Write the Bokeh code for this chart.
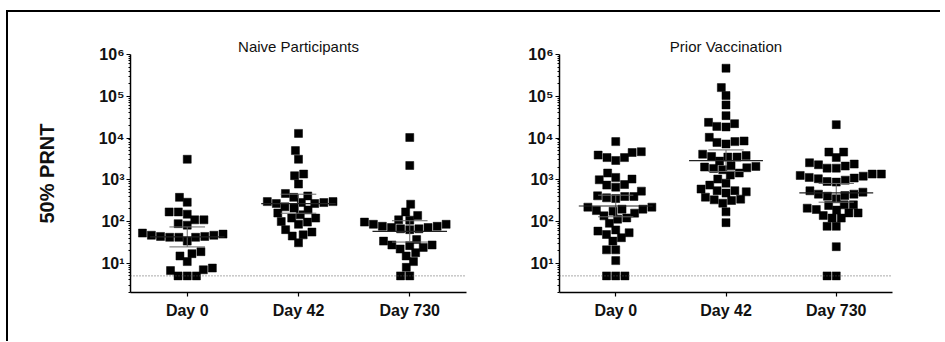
import math
import numpy as np
from bokeh.plotting import figure
from bokeh.models import FixedTicker, Span, Range1d
from bokeh.layouts import row
from bokeh.embed import file_html
from bokeh.resources import INLINE

# ---------------- data ----------------
days = ["Day 0", "Day 42", "Day 730"]
titles = ["Naive Participants", "Prior Vaccination"]
y_label = "50% PRNT"
ytick_vals = [10, 100, 1000, 10000, 100000, 1000000]
ytick_labels = ["10\u00b9", "10\u00b2", "10\u00b3", "10\u2074", "10\u2075", "10\u2076"]
detection_limit = 5

naive_day0 = [3100, 380, 290, 170, 150, 170, 110, 110, 82, 89, 53, 47, 44, 42, 42,
              34, 42, 44, 47, 50, 19, 15, 17, 11, 7, 7.7, 6.7, 5, 5, 5]
naive_day42 = [12900, 5000, 3100, 1250, 1370, 790, 470, 380, 410, 300, 285, 270, 210,
               190, 225, 270, 285, 300, 145, 160, 121, 121, 97, 100, 86, 64, 48, 56, 45, 31]
naive_day730 = [10300, 2200, 260, 140, 170, 110, 108, 86, 77, 72, 67, 64, 67, 72, 77,
                86, 97, 37, 27.5, 26.5, 27.5, 34, 22, 24, 15, 18, 11, 8, 5, 5]

prior_day0 = [8200, 3900, 4500, 4700, 3400, 2900, 3400, 1450, 1000, 1140, 1040, 745,
              667, 770, 535, 413, 398, 356, 370, 398, 221, 198, 177, 159, 183, 198, 221,
              122, 91, 114, 137, 59, 49, 34, 41, 54, 63, 21, 21, 11.6, 5, 5, 5]
prior_day42 = [469000, 161000, 104000, 62000, 34300, 22100, 18400, 19000, 23700, 8500,
               7850, 7200, 8200, 10400, 4100, 3600, 3500, 3500, 3800, 2800, 2170, 2090,
               1940, 1450, 1740, 1300, 1870, 2020, 1040, 745, 830, 480, 550, 550, 600,
               515, 344, 319, 275, 331, 384, 171, 94]
prior_day730 = [20900, 4600, 3400, 4600, 2560, 2290, 1900, 1900, 2130, 2380, 1370, 1220,
                1100, 980, 880, 910, 1060, 1140, 1270, 1370, 506, 405, 453, 421, 453, 350,
                545, 209, 188, 251, 242, 251, 194, 121, 161, 139, 121, 161, 77, 77, 25, 5, 5]

naive_groups = [naive_day0, naive_day42, naive_day730]
prior_groups = [prior_day0, prior_day42, prior_day730]

# ---------------- layout constants ----------------
FONT = "Liberation Sans"
H = 329
BT, BB = 42, 49
Y_MIN, Y_MAX = 2, 1e6
X_MIN, X_MAX = -0.51, 2.51
MARK = 8
SWARM_D = 9.2


def t_crit(df, q=0.975):
    c = math.gamma((df + 1) / 2) / (math.sqrt(df * math.pi) * math.gamma(df / 2))
    xs = np.linspace(0, 12, 240001)
    pdf = c * (1 + xs ** 2 / df) ** (-(df + 1) / 2)
    cdf = 0.5 + np.concatenate([[0], np.cumsum((pdf[1:] + pdf[:-1]) / 2) * (xs[1] - xs[0])])
    return float(xs[np.searchsorted(cdf, q)])


def swarm(vals, px_per_decade, d):
    ys = np.log10(np.asarray(vals, float)) * px_per_decade
    order = np.argsort(ys, kind="stable")
    xs = np.zeros(len(ys))
    placed = []
    for i in order:
        yi = ys[i]
        cands = [0.0]
        for xj, yj in placed:
            dy = abs(yi - yj)
            if dy < d:
                dx = math.sqrt(d * d - dy * dy)
                cands += [xj + dx, xj - dx]
        cands.sort(key=lambda c: (round(abs(c), 6), c))
        for c in cands:
            if all((c - xj) ** 2 + (yi - yj) ** 2 >= d * d - 1e-6 for xj, yj in placed):
                xs[i] = c
                break
        placed.append((xs[i], yi))
    return xs


def make_panel(title, groups, width, bl, br, ylabel, title_offset):
    p = figure(width=width, height=H, x_range=Range1d(X_MIN, X_MAX),
               y_range=Range1d(Y_MIN, Y_MAX), y_axis_type="log",
               output_backend="svg", toolbar_location=None,
               min_border_left=bl, min_border_right=br,
               min_border_top=BT, min_border_bottom=BB, title=title)
    p.title.text_font = FONT
    p.title.text_font_size = "15px"
    p.title.text_font_style = "normal"
    p.title.align = "center"
    p.title.standoff = 0
    p.title.offset = title_offset
    p.title.text_color = "#111"
    p.outline_line_color = None
    p.grid.visible = False
    p.background_fill_color = "white"
    p.border_fill_color = "white"

    fw = width - bl - br
    fh = H - BT - BB
    px_per_unit = fw / (X_MAX - X_MIN)
    px_per_decade = fh / (math.log10(Y_MAX) - math.log10(Y_MIN))

    p.add_layout(Span(location=detection_limit, dimension="width",
                      line_color="#555", line_dash="1 2", line_width=1))

    for i, vals in enumerate(groups):
        xo = swarm(vals, px_per_decade, SWARM_D) / px_per_unit
        p.scatter(x=i + xo, y=vals, marker="square", size=MARK,
                  fill_color="black", line_color="black", line_width=0.5)
        lg = np.log10(np.asarray(vals, float))
        n = len(lg)
        m = lg.mean()
        h = t_crit(n - 1) * lg.std(ddof=1) / math.sqrt(n)
        gm, lo, hi = 10 ** m, 10 ** (m - h), 10 ** (m + h)
        p.segment(x0=[i], y0=[lo], x1=[i], y1=[hi], line_color="#666", line_width=1)
        p.segment(x0=[i - 0.16, i - 0.16], y0=[lo, hi], x1=[i + 0.16, i + 0.16],
                  y1=[lo, hi], line_color="#666", line_width=1)
        p.segment(x0=[i - 0.335], y0=[gm], x1=[i + 0.335], y1=[gm],
                  line_color="#222", line_width=1.2)

    minor = [k * 10 ** e for e in range(0, 6) for k in range(2, 10) if k * 10 ** e >= Y_MIN]
    p.yaxis.ticker = FixedTicker(ticks=ytick_vals, minor_ticks=minor)
    p.yaxis.major_label_overrides = {v: lab for v, lab in zip(ytick_vals, ytick_labels)}
    p.xaxis.ticker = FixedTicker(ticks=list(range(len(days))))
    p.xaxis.major_label_overrides = {i: d for i, d in enumerate(days)}

    for ax in (p.xaxis, p.yaxis):
        ax.axis_line_width = 1.5
        ax.axis_line_color = "black"
        ax.major_tick_line_color = "black"
        ax.major_tick_line_width = 1.2
        ax.major_tick_in = 0
        ax.major_tick_out = 4
        ax.minor_tick_in = 0
        ax.minor_tick_out = 2
        ax.minor_tick_line_color = "black"
        ax.major_label_text_font = FONT
        ax.major_label_text_font_style = "bold"
        ax.major_label_text_color = "#111"
    p.xaxis.minor_tick_line_color = None
    p.xaxis.major_label_text_font_size = "16px"
    p.xaxis.major_label_standoff = 5
    p.yaxis.major_label_text_font_size = "16px"
    p.yaxis.major_label_standoff = 2
    if ylabel:
        p.yaxis.axis_label = ylabel
        p.yaxis.axis_label_text_font = FONT
        p.yaxis.axis_label_text_font_style = "bold"
        p.yaxis.axis_label_text_font_size = "20px"
        p.yaxis.axis_label_text_color = "#111"
        p.yaxis.axis_label_standoff = 38
    return p


p1 = make_panel(titles[0], naive_groups, 477, 122, 19, y_label, 0)
p2 = make_panel(titles[1], prior_groups, 455, 74, 48, None, 13)

layout = row(p1, p2, styles={"border-top": "2px solid black",
                             "border-left": "2px solid black",
                             "margin-top": "10px",
                             "margin-left": "6px"})

open("out.html", "w").write(file_html(layout, INLINE))
